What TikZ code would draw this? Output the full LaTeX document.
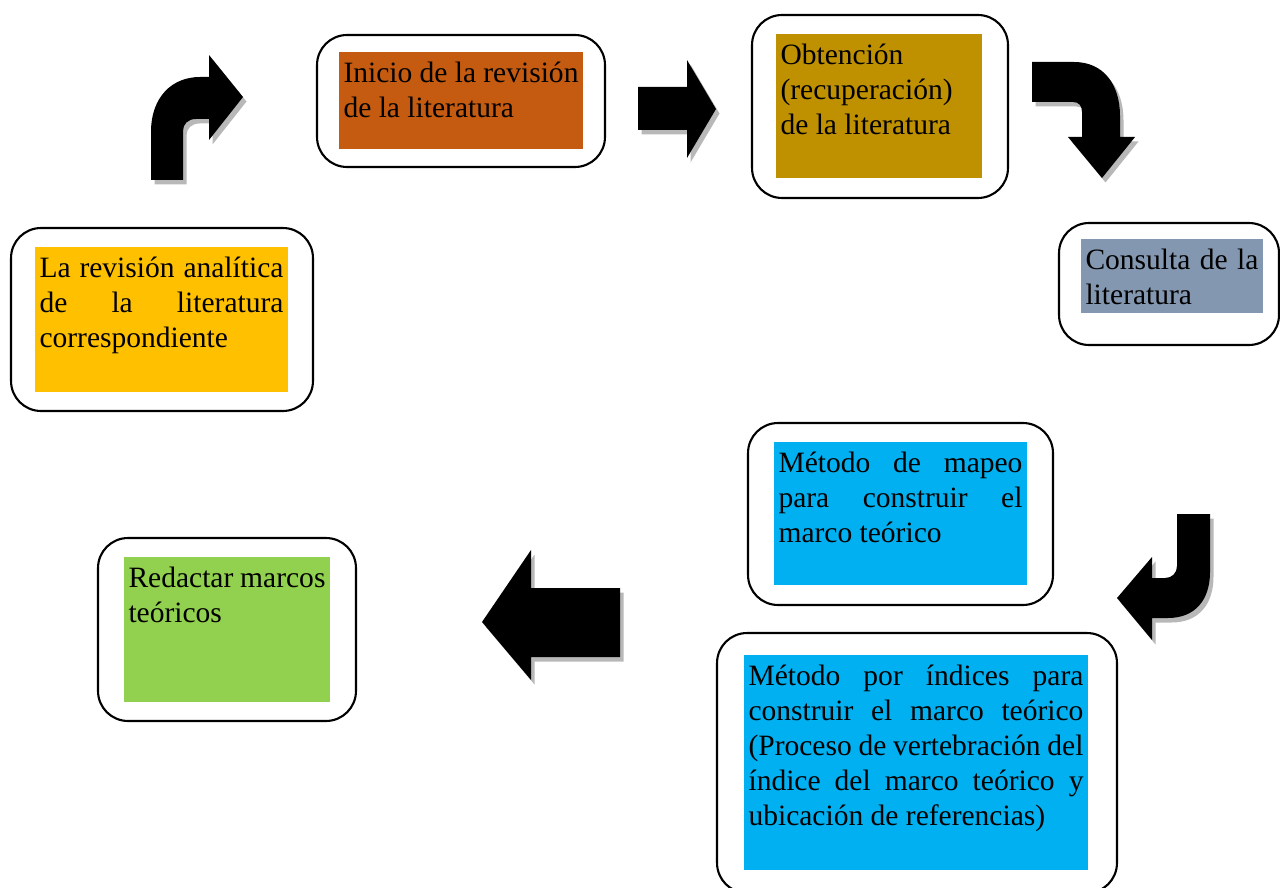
\documentclass[tikz,border=0pt]{standalone}
\usepackage{fontspec}
\setmainfont{Liberation Serif}
\usepackage{xcolor}
\usepackage{tikz}
\usetikzlibrary{shadows}
\definecolor{inicioC}{HTML}{C55A11}
\definecolor{obtencionC}{HTML}{BF9000}
\definecolor{consultaC}{HTML}{8497B0}
\definecolor{revisionC}{HTML}{FFC000}
\definecolor{metodoC}{HTML}{00B0F0}
\definecolor{redactarC}{HTML}{92D050}
\hyphenpenalty=10000
\exhyphenpenalty=10000
\newcommand{\cajatexto}[3]{\parbox[c][#2][t]{#1}{\rule{0pt}{17.3pt}#3}}

\begin{document}
\begin{tikzpicture}[x = 0.02cm, y = -0.02cm]
	\tikzstyle{marco} = [draw = black, line width = 1.2pt, rounded corners = 0.6cm, inner sep = 0pt]
	\tikzstyle{relleno} = [inner xsep = 0.09cm, inner ysep = 0pt, font = \fontsize{16.8}{20}\selectfont]
	\tikzstyle{flecha} = [fill = black, drop shadow = {shadow xshift = 0.07cm, shadow yshift = -0.09cm, fill = black!28, opacity = 1}]
\useasboundingbox (0, 0) rectangle (1280, 888);
% marcos redondeados
\node[marco, minimum width = 5.76cm, minimum height = 2.64cm] (inicioM) at (461, 101) {};
\node[marco, minimum width = 5.12cm, minimum height = 3.66cm] (obtencionM) at (880, 106.5) {};
\node[marco, minimum width = 4.40cm, minimum height = 2.44cm] (consultaM) at (1169, 284) {};
\node[marco, minimum width = 6.04cm, minimum height = 3.66cm] (revisionM) at (162, 319.5) {};
\node[marco, minimum width = 6.10cm, minimum height = 3.64cm] (mapeoM) at (900.5, 514) {};
\node[marco, minimum width = 8.00cm, minimum height = 5.20cm] (indicesM) at (917, 763) {};
\node[marco, minimum width = 5.16cm, minimum height = 3.66cm] (redactarM) at (227, 629.5) {};
% rellenos con texto
\node[relleno, fill = inicioC] (inicio) at (461, 100.5)
	{\cajatexto{4.70cm}{1.94cm}{Inicio de la revisión\linebreak de la literatura}};
\node[relleno, fill = obtencionC] (obtencion) at (879, 106)
	{\cajatexto{3.94cm}{2.88cm}{Obtención\\(recuperación)\\de la literatura}};
\node[relleno, fill = consultaC] (consulta) at (1172, 276)
	{\cajatexto{3.46cm}{1.48cm}{Consulta de la\linebreak literatura}};
\node[relleno, fill = revisionC] (revision) at (161.5, 319.5)
	{\cajatexto{4.88cm}{2.90cm}{La revisión analítica\linebreak de la literatura\linebreak correspondiente}};
\node[relleno, fill = metodoC] (mapeo) at (900.5, 513.5)
	{\cajatexto{4.88cm}{2.86cm}{Método de mapeo\linebreak para construir el\linebreak marco teórico}};
\node[relleno, fill = metodoC] (indices) at (916, 762.5)
	{\cajatexto{6.70cm}{4.30cm}{Método por índices para\linebreak construir el marco teórico\linebreak (Proceso de vertebración del\linebreak índice del marco teórico y\linebreak ubicación de referencias)}};
\node[relleno, fill = redactarC] (redactar) at (227, 629.5)
	{\cajatexto{3.94cm}{2.90cm}{Redactar marcos\linebreak teóricos}};
% flechas
\path[flecha] (151, 180) -- (151, 132) .. controls (151, 97) and (172, 77) .. (200, 77) -- (209, 77) -- (209, 55)
	-- (243, 97) -- (209, 140) -- (209, 119) -- (196, 119) .. controls (188, 119) and (183, 124) .. (183, 131) -- (183, 180) -- cycle;
\path[flecha] (638, 87) -- (687, 87) -- (687, 60) -- (716, 109) -- (687, 158) -- (687, 130) -- (638, 130) -- cycle;
\path[flecha] (1032, 62) -- (1074, 62) .. controls (1104, 62) and (1120, 85) .. (1120, 116) -- (1120, 137) -- (1135, 137)
	-- (1102, 178) -- (1068, 137) -- (1082, 137) -- (1082, 112) .. controls (1082, 106) and (1079, 102) .. (1073, 102) -- (1032, 102) -- cycle;
\path[flecha] (1177, 514) -- (1210, 514) -- (1210, 572) .. controls (1210, 600) and (1195, 618) .. (1168, 618) -- (1152, 618) -- (1152, 640)
	-- (1117, 598) -- (1152, 557) -- (1152, 578) -- (1165, 578) .. controls (1172, 578) and (1177, 573) .. (1177, 566) -- cycle;
\path[flecha] (620, 588) -- (531, 588) -- (531, 550) -- (482, 622) -- (531, 680) -- (531, 657) -- (620, 657) -- cycle;
\end{tikzpicture}
\end{document}
